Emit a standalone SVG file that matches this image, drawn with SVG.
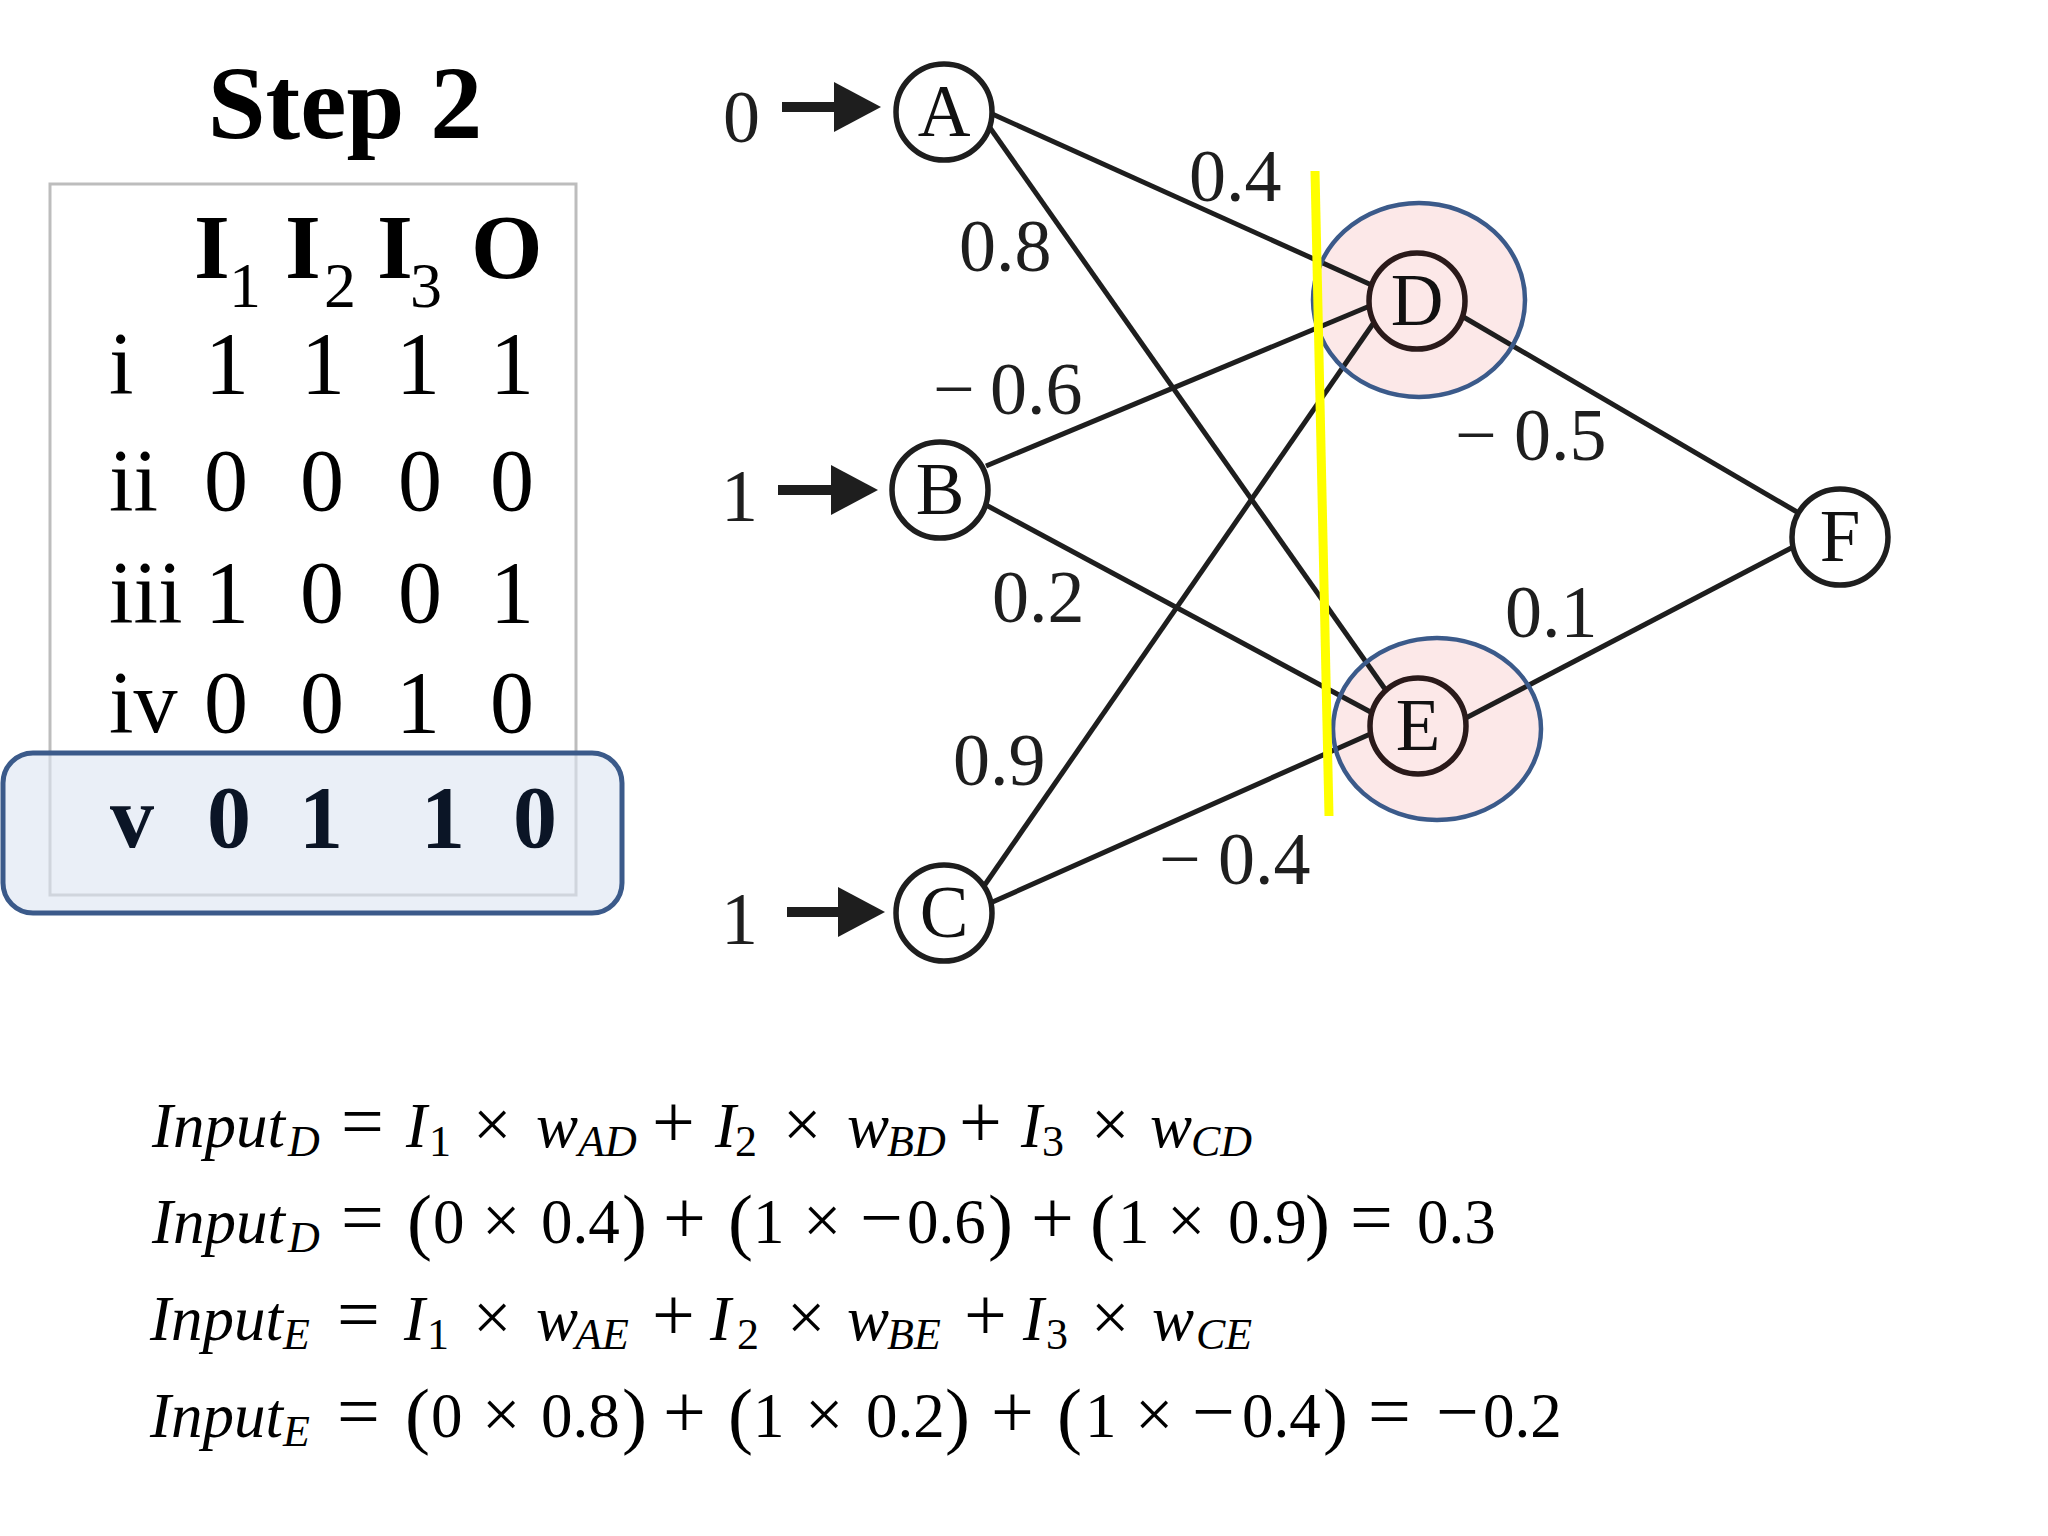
<svg xmlns="http://www.w3.org/2000/svg" width="2048" height="1536" viewBox="0 0 2048 1536">
<defs>
<style>
text{font-family:"Liberation Serif","Times New Roman",serif;fill:#000}
.title{font-size:104px;font-weight:bold;text-anchor:middle}
.hd{font-size:92px;font-weight:bold}
.hs{font-size:64px}
.row{font-size:88px}
.cell{font-size:88px;text-anchor:middle}
.cellb{font-size:88px;font-weight:bold;text-anchor:middle;fill:#0b1526}
.rowb{font-size:88px;font-weight:bold;fill:#0b1526}
.node circle{fill:#fff;stroke:#1e1e1e;stroke-width:5.5}
.node.hot circle{fill:#fce8e8;stroke:#2a1a1a}
.nl{font-size:73px;text-anchor:middle;fill:#111}
.edge{stroke:#1e1e1e;stroke-width:5;fill:none}
.wl{font-size:74px;fill:#1e1e1e}
.inl{font-size:74px;fill:#1e1e1e}
.arrow{stroke:#1e1e1e;stroke-width:10;fill:none}
.eq{font-size:63px}
.it{font-style:italic}
.sub{font-size:44px}
.op{font-size:76px}
.x{font-size:68px}
.pa{font-size:75px}
.hlf{fill:#fce8e8;stroke:none}
.hls{fill:none;stroke:#3b5a8a;stroke-width:4.5}
</style>
<marker id="ah" markerUnits="userSpaceOnUse" markerWidth="48" markerHeight="50" refX="1" refY="25" orient="auto">
<path d="M0,0 L47,25 L0,50 z" fill="#1e1e1e"/>
</marker>
</defs>
<rect width="2048" height="1536" fill="#fff"/>

<g id="title">
<text class="title" x="345" y="138">Step 2</text>
</g>

<g id="table">
<rect x="50" y="184" width="526" height="711" fill="none" stroke="#bdbdbd" stroke-width="3"/>
<rect x="3" y="753" width="619" height="160" rx="30" ry="30" fill="#dce5f2" fill-opacity="0.6" stroke="#3b5a8a" stroke-width="5"/>
<text class="hd" x="194" y="278">I</text><text class="hs" x="229" y="307">1</text>
<text class="hd" x="285" y="278">I</text><text class="hs" x="324" y="307">2</text>
<text class="hd" x="377" y="278">I</text><text class="hs" x="410" y="307">3</text>
<text class="hd" x="471" y="278">O</text>
<text class="row" x="109" y="393">i</text>
<text class="cell" x="227" y="393">1</text><text class="cell" x="323" y="393">1</text><text class="cell" x="418" y="393">1</text><text class="cell" x="512" y="393">1</text>
<text class="row" x="109" y="510">ii</text>
<text class="cell" x="226" y="510">0</text><text class="cell" x="322" y="510">0</text><text class="cell" x="420" y="510">0</text><text class="cell" x="512" y="510">0</text>
<text class="row" x="109" y="622">iii</text>
<text class="cell" x="227" y="622">1</text><text class="cell" x="322" y="622">0</text><text class="cell" x="420" y="622">0</text><text class="cell" x="512" y="622">1</text>
<text class="row" x="109" y="732">iv</text>
<text class="cell" x="226" y="732">0</text><text class="cell" x="322" y="732">0</text><text class="cell" x="418" y="732">1</text><text class="cell" x="512" y="732">0</text>
<text class="rowb" x="110" y="847">v</text>
<text class="cellb" x="229" y="847">0</text><text class="cellb" x="321" y="847">1</text><text class="cellb" x="443" y="847">1</text><text class="cellb" x="535" y="847">0</text>
</g>

<g id="highlight-fills">
<ellipse class="hlf" cx="1419" cy="300" rx="106" ry="97"/>
<ellipse class="hlf" cx="1437" cy="729" rx="104" ry="91"/>
</g>

<g id="connectors">
<line class="edge" x1="990" y1="113" x2="1376" y2="287"/>
<line class="edge" x1="988" y1="125" x2="1385" y2="689"/>
<line class="edge" x1="986" y1="466" x2="1377" y2="303"/>
<line class="edge" x1="986" y1="505" x2="1378" y2="716"/>
<line class="edge" x1="984" y1="886" x2="1377" y2="318"/>
<line class="edge" x1="988" y1="904" x2="1377" y2="731"/>
<line class="edge" x1="1460" y1="315" x2="1797" y2="512"/>
<line class="edge" x1="1462" y1="720" x2="1797" y2="545"/>
<line class="arrow" x1="782" y1="107" x2="835" y2="107" marker-end="url(#ah)"/>
<line class="arrow" x1="778" y1="490" x2="832" y2="490" marker-end="url(#ah)"/>
<line class="arrow" x1="787" y1="912" x2="839" y2="912" marker-end="url(#ah)"/>
</g>

<g id="weights">
<text class="wl" x="1189" y="201">0.4</text>
<text class="wl" x="959" y="271">0.8</text>
<text class="wl" x="933" y="414">−<tspan x="990">0.6</tspan></text>
<text class="wl" x="992" y="622">0.2</text>
<text class="wl" x="953" y="785">0.9</text>
<text class="wl" x="1159" y="884">−<tspan x="1218">0.4</tspan></text>
<text class="wl" x="1455" y="460">−<tspan x="1514">0.5</tspan></text>
<text class="wl" x="1505" y="637">0.1</text>
</g>

<g id="inputs">
<text class="inl" x="723" y="142">0</text>
<text class="inl" x="721" y="521">1</text>
<text class="inl" x="721" y="944">1</text>
</g>

<g id="node-A" class="node"><circle cx="944" cy="112" r="48"/><text class="nl" x="944" y="136">A</text></g>
<g id="node-B" class="node"><circle cx="940" cy="490" r="48"/><text class="nl" x="940" y="514">B</text></g>
<g id="node-C" class="node"><circle cx="944" cy="913" r="48"/><text class="nl" x="944" y="937">C</text></g>
<g id="node-D" class="node hot"><circle cx="1417" cy="301" r="48"/><text class="nl" x="1417" y="325">D</text></g>
<g id="node-E" class="node hot"><circle cx="1418" cy="726" r="48"/><text class="nl" x="1418" y="750">E</text></g>
<g id="node-F" class="node"><circle cx="1840" cy="537" r="48"/><text class="nl" x="1840" y="561">F</text></g>

<g id="highlights">
<ellipse class="hls" cx="1419" cy="300" rx="106" ry="97"/>
<ellipse class="hls" cx="1437" cy="729" rx="104" ry="91"/>
<line x1="1315" y1="171" x2="1329" y2="816" stroke="#ffff00" stroke-width="9"/>
</g>

<g id="equations">
<text class="eq" y="1147"><tspan class="it" x="152">Input</tspan><tspan class="it sub" x="288" y="1156">D</tspan><tspan class="op" x="341" y="1147">=</tspan><tspan class="it" x="406">I</tspan><tspan class="sub" x="429" y="1156">1</tspan><tspan class="x" x="473" y="1147">×</tspan><tspan class="it" x="536">w</tspan><tspan class="it sub" x="578" y="1156">AD</tspan><tspan class="op" x="652" y="1147">+</tspan><tspan class="it" x="715">I</tspan><tspan class="sub" x="735" y="1156">2</tspan><tspan class="x" x="783" y="1147">×</tspan><tspan class="it" x="847">w</tspan><tspan class="it sub" x="887" y="1156">BD</tspan><tspan class="op" x="959" y="1147">+</tspan><tspan class="it" x="1021">I</tspan><tspan class="sub" x="1042" y="1156">3</tspan><tspan class="x" x="1091" y="1147">×</tspan><tspan class="it" x="1150">w</tspan><tspan class="it sub" x="1191" y="1156">CD</tspan></text>
<text class="eq" y="1243"><tspan class="it" x="152">Input</tspan><tspan class="it sub" x="288" y="1252">D</tspan><tspan class="op" x="341" y="1243">=</tspan><tspan class="pa" x="407" y="1246">(</tspan><tspan x="433" y="1243">0</tspan><tspan class="x" x="482">×</tspan><tspan x="541">0.4</tspan><tspan class="pa" x="622" y="1246">)</tspan><tspan class="op" x="663" y="1243">+</tspan><tspan class="pa" x="728" y="1246">(</tspan><tspan x="753" y="1243">1</tspan><tspan class="x" x="803">×</tspan><tspan class="op" x="860">−</tspan><tspan x="907">0.6</tspan><tspan class="pa" x="988" y="1246">)</tspan><tspan class="op" x="1031" y="1243">+</tspan><tspan class="pa" x="1090" y="1246">(</tspan><tspan x="1118" y="1243">1</tspan><tspan class="x" x="1167">×</tspan><tspan x="1228">0.9</tspan><tspan class="pa" x="1305" y="1246">)</tspan><tspan class="op" x="1350" y="1243">=</tspan><tspan x="1417">0.3</tspan></text>
<text class="eq" y="1340"><tspan class="it" x="150">Input</tspan><tspan class="it sub" x="283" y="1349">E</tspan><tspan class="op" x="337" y="1340">=</tspan><tspan class="it" x="404">I</tspan><tspan class="sub" x="427" y="1349">1</tspan><tspan class="x" x="473" y="1340">×</tspan><tspan class="it" x="536">w</tspan><tspan class="it sub" x="575" y="1349">AE</tspan><tspan class="op" x="652" y="1340">+</tspan><tspan class="it" x="710">I</tspan><tspan class="sub" x="737" y="1349">2</tspan><tspan class="x" x="787" y="1340">×</tspan><tspan class="it" x="847">w</tspan><tspan class="it sub" x="887" y="1349">BE</tspan><tspan class="op" x="964" y="1340">+</tspan><tspan class="it" x="1023">I</tspan><tspan class="sub" x="1046" y="1349">3</tspan><tspan class="x" x="1091" y="1340">×</tspan><tspan class="it" x="1152">w</tspan><tspan class="it sub" x="1196" y="1349">CE</tspan></text>
<text class="eq" y="1437"><tspan class="it" x="150">Input</tspan><tspan class="it sub" x="283" y="1446">E</tspan><tspan class="op" x="337" y="1437">=</tspan><tspan class="pa" x="405" y="1440">(</tspan><tspan x="431" y="1437">0</tspan><tspan class="x" x="482">×</tspan><tspan x="541">0.8</tspan><tspan class="pa" x="622" y="1440">)</tspan><tspan class="op" x="663" y="1437">+</tspan><tspan class="pa" x="728" y="1440">(</tspan><tspan x="753" y="1437">1</tspan><tspan class="x" x="805">×</tspan><tspan x="866">0.2</tspan><tspan class="pa" x="945" y="1440">)</tspan><tspan class="op" x="991" y="1437">+</tspan><tspan class="pa" x="1057" y="1440">(</tspan><tspan x="1085" y="1437">1</tspan><tspan class="x" x="1135">×</tspan><tspan class="op" x="1192">−</tspan><tspan x="1242">0.4</tspan><tspan class="pa" x="1323" y="1440">)</tspan><tspan class="op" x="1368" y="1437">=</tspan><tspan class="op" x="1436">−</tspan><tspan x="1483">0.2</tspan></text>
</g>
</svg>
